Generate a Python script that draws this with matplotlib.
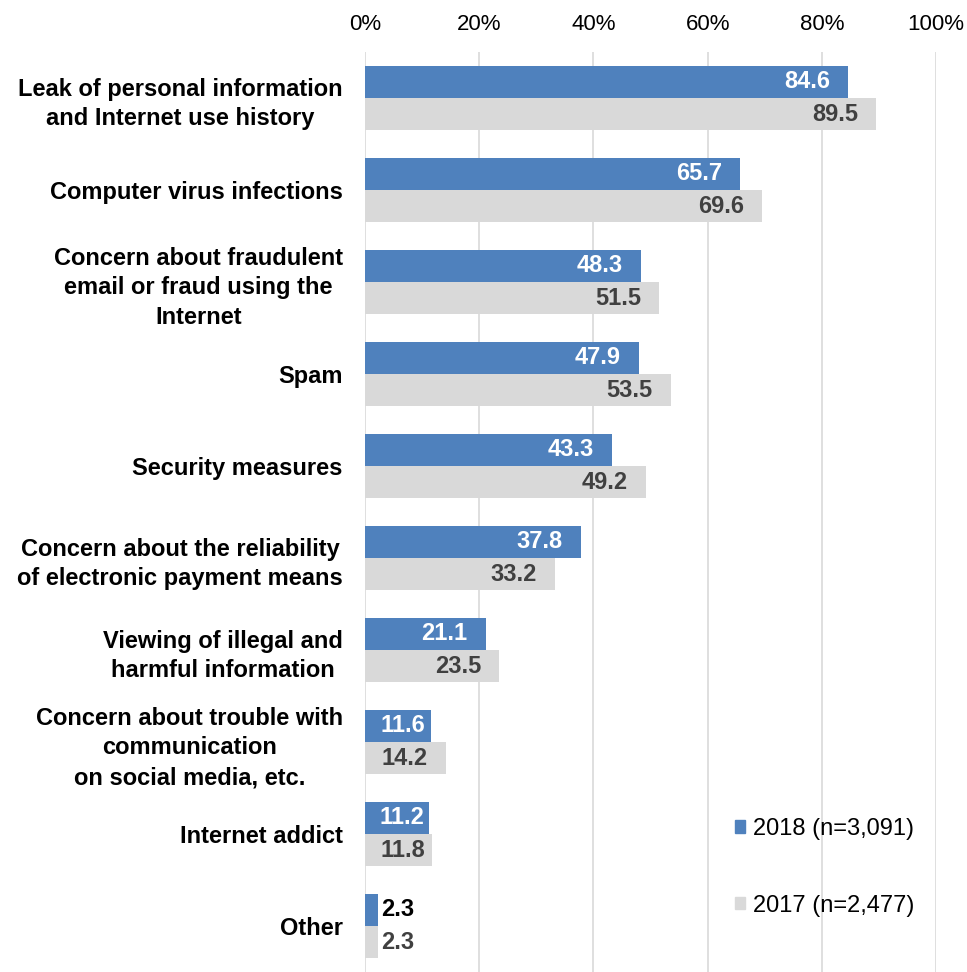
import matplotlib
matplotlib.use("Agg")
import matplotlib.pyplot as plt
from matplotlib.patches import Patch
import numpy as np

plt.rcParams["font.family"] = ["Liberation Sans", "DejaVu Sans"]

categories = [
    "Leak of personal information\nand Internet use history",
    "Computer virus infections",
    "Concern about fraudulent\nemail or fraud using the\nInternet",
    "Spam",
    "Security measures",
    "Concern about the reliability\nof electronic payment means",
    "Viewing of illegal and\nharmful information",
    "Concern about trouble with\ncommunication\non social media, etc.",
    "Internet addict",
    "Other",
]
values_2018 = [84.6, 65.7, 48.3, 47.9, 43.3, 37.8, 21.1, 11.6, 11.2, 2.3]
values_2017 = [89.5, 69.6, 51.5, 53.5, 49.2, 33.2, 23.5, 14.2, 11.8, 2.3]
series_labels = ["2018 (n=3,091)", "2017 (n=2,477)"]
xticks = [0, 20, 40, 60, 80, 100]

BLUE = "#4F81BD"
GRAY = "#D9D9D9"

W, H = 9.67, 9.72
AX_RECT = [0.3775, 0.0, 0.5905, 0.9465]

fig = plt.figure(figsize=(W, H), dpi=100)
ax = fig.add_axes(AX_RECT)

y = np.arange(len(categories))
h = 0.35
ax.barh(y - h / 2, values_2018, height=h, color=BLUE, zorder=2)
ax.barh(y + h / 2, values_2017, height=h, color=GRAY, zorder=2)

# bar length in points per percent, used to keep labels inside short bars
pt_per_unit = AX_RECT[2] * W * 72 / 100
label_w = 32  # approx. width of a "00.0" label in points

for yi, v18, v17 in zip(y, values_2018, values_2017):
    for v, yy, inside_c, outside_c in ((v18, yi - h / 2, "white", "black"),
                                        (v17, yi + h / 2, "#404040", "#404040")):
        if v > 8:
            off = min(13, v * pt_per_unit - label_w - 11)
            ax.annotate(f"{v:.1f}", (v, yy), xytext=(-off, 0), textcoords="offset points",
                        ha="right", va="center", fontsize=17, fontweight="bold",
                        color=inside_c, zorder=3)
        else:
            ax.annotate(f"{v:.1f}", (v, yy), xytext=(2, 0), textcoords="offset points",
                        ha="left", va="center", fontsize=17, fontweight="bold",
                        color=outside_c, zorder=3)

ax.set_xlim(0, 100)
ax.set_ylim(len(categories) - 0.5, -0.5)
ax.set_xticks(xticks)
ax.set_xticklabels([f"{t}%" for t in xticks], fontsize=16)
ax.xaxis.tick_top()
ax.tick_params(axis="x", length=0, pad=12)
ax.set_yticks(y)
ax.set_yticklabels(categories, fontsize=17, fontweight="bold",
                   multialignment="center", linespacing=1.38)
ax.tick_params(axis="y", length=0, pad=16)
ax.grid(axis="x", color="#D9D9D9", lw=1.2, zorder=0)
for s in ax.spines.values():
    s.set_visible(False)

handles = [Patch(color=BLUE), Patch(color=GRAY)]
ax.legend(handles, series_labels, loc="lower left", bbox_to_anchor=(0.631, 0.05),
          frameon=False, fontsize=17, handlelength=0.45, handleheight=0.45,
          handletextpad=0.3, labelspacing=2.3, borderaxespad=0)

fig.savefig("out.png", dpi=100)
